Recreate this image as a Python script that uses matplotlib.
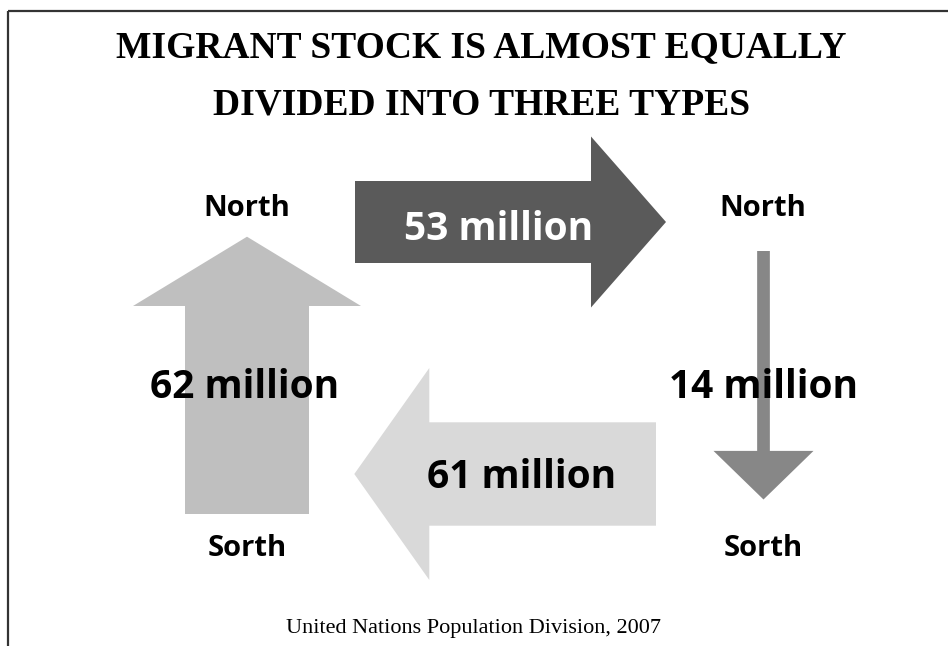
import matplotlib
matplotlib.use("Agg")
import matplotlib.pyplot as plt
from matplotlib.patches import FancyArrow

# ---- data ----
flows = ["North→North", "North→South", "South→South", "South→North"]
values_million = [53, 14, 61, 62]
value_labels = [f"{v} million" for v in values_million]
node_labels = ["North", "North", "Sorth", "Sorth"]
title_lines = ["MIGRANT STOCK IS ALMOST EQUALLY", "DIVIDED INTO THREE TYPES"]
source = "United Nations Population Division, 2007"

# ---- layout (pixel canvas, y downward) ----
W, H = 948, 646
fig = plt.figure(figsize=(W / 100, H / 100), dpi=100)
ax = fig.add_axes([0, 0, 1, 1])
ax.set_xlim(0, W)
ax.set_ylim(H, 0)
ax.axis("off")

# arrows: (tail_x, tail_y, tip_x, tip_y, shaft_w, head_w, head_len, color)
arrow_geom = [
    (355, 222, 666, 222, 82, 171, 75, "#5a5a5a"),
    (763.5, 251, 763.5, 499.5, 12.7, 100, 48.6, "#878787"),
    (656, 474, 354.3, 474, 103.4, 212, 75, "#d9d9d9"),
    (247, 514, 247, 236.7, 124, 228, 69.3, "#bfbfbf"),
]
for (x0, y0, x1, y1, sw, hw, hl, c) in arrow_geom:
    ax.add_patch(FancyArrow(x0, y0, x1 - x0, y1 - y0, width=sw, head_width=hw,
                            head_length=hl, length_includes_head=True,
                            color=c, lw=0))

sans = "Open Sans"
label_pos = [(499, 229), (764, 387), (522, 477), (245, 388)]
label_col = ["white", "black", "black", "black"]
for (x, y), t, c in zip(label_pos, value_labels, label_col):
    ax.text(x, y, t, ha="center", va="center", fontsize=28, fontweight="bold",
            family=sans, color=c)

node_pos = [(247, 208), (763, 208), (247, 548), (763, 548)]
for (x, y), t in zip(node_pos, node_labels):
    ax.text(x, y, t, ha="center", va="center", fontsize=21, fontweight="bold",
            family=sans, color="black")

ax.text(481, 48, title_lines[0], ha="center", va="center", fontsize=27,
        fontweight="bold", family="Liberation Serif")
ax.text(482, 105, title_lines[1], ha="center", va="center", fontsize=27,
        fontweight="bold", family="Liberation Serif")

ax.text(474, 628, source, ha="center", va="center", fontsize=16,
        family="Liberation Serif")

# frame lines
ax.plot([8, 8], [H, 11], color="#333333", lw=1.6, solid_capstyle="butt")
ax.plot([8, W], [11, 11], color="#333333", lw=1.6, solid_capstyle="butt")

fig.savefig("out.png", dpi=100)
